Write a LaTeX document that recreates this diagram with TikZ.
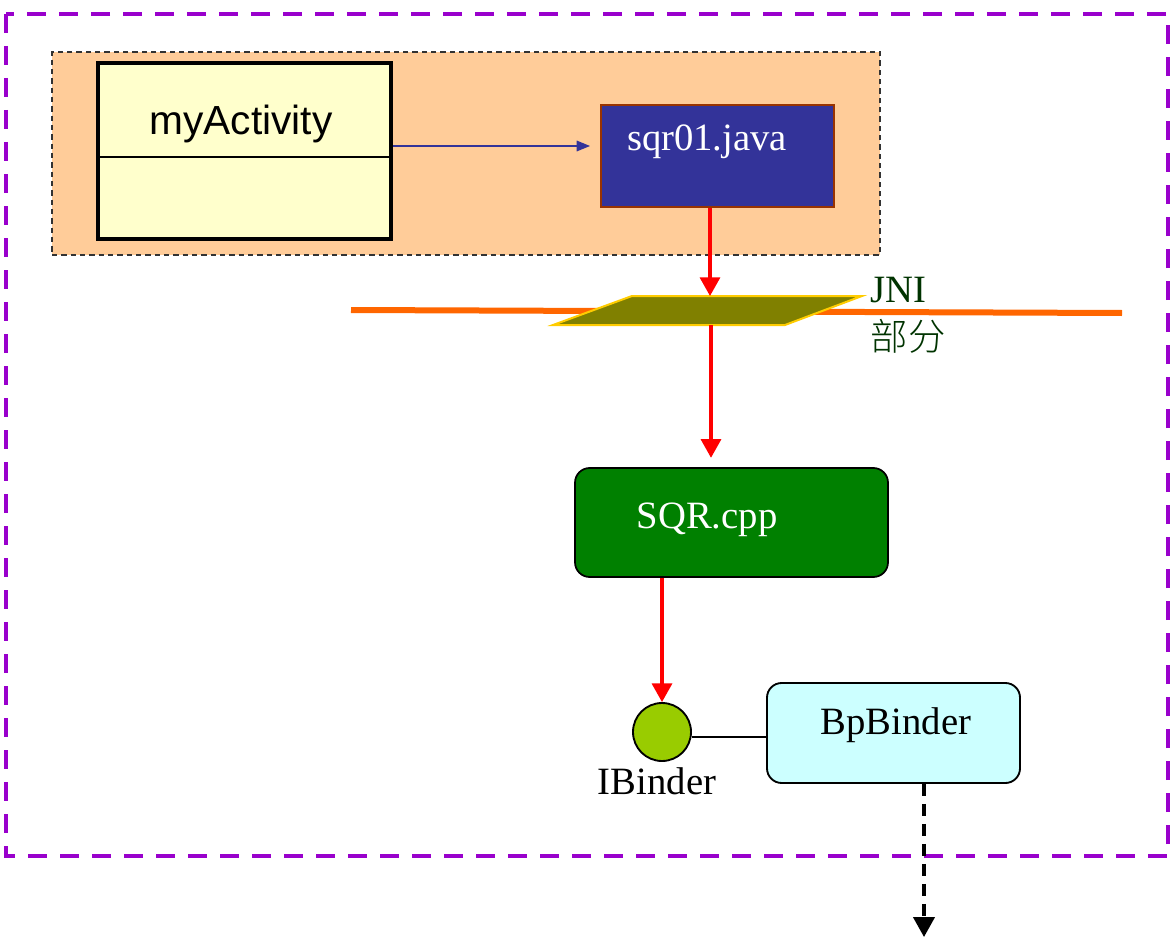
\documentclass[tikz,border=0pt]{standalone}
\usepackage{fontspec}
\setmainfont{Liberation Serif}
\newfontfamily\arialf{Liberation Sans}
\newfontfamily\cjkf{Noto Sans CJK SC}[UprightFont=* Light]
\usetikzlibrary{arrows.meta}
\definecolor{purp}{HTML}{9900CC}
\definecolor{peach}{HTML}{FFCC99}
\definecolor{lyel}{HTML}{FFFFCC}
\definecolor{navy}{HTML}{333399}
\definecolor{brownb}{HTML}{993300}
\definecolor{orln}{HTML}{FF6600}
\definecolor{olive}{HTML}{808000}
\definecolor{goldb}{HTML}{FFCC00}
\definecolor{dgreen}{HTML}{008000}
\definecolor{jnigreen}{HTML}{003300}
\definecolor{lime}{HTML}{99CC00}
\definecolor{lcyan}{HTML}{CCFFFF}
\tikzset{
  box/.style={inner sep=0pt, anchor=center},
  redarrow/.style={draw=red, line width=2.4pt, -{Triangle[length=14pt,width=15pt]}},
  lbl/.style={inner sep=0pt, anchor=center, font=\fontsize{29}{32}\selectfont}
}
\begin{document}
\begin{tikzpicture}[x=0.75pt,y=-0.75pt]
\useasboundingbox (0,0) rectangle (1172,942);
% outer purple dashed frame
\draw[purp, line width=3pt, dash pattern=on 14pt off 10pt] (6,14) rectangle (1168,856);
% peach background
\node[box, fill=peach, draw=black!80, line width=0.8pt, dash pattern=on 4pt off 3pt,
  minimum width=621pt, minimum height=152.25pt] (bg) at (466,153.5) {};
% myActivity
\node[box, fill=lyel, draw=black, line width=3pt, minimum width=219.75pt, minimum height=132pt] (act) at (244.5,151) {};
\draw[black, line width=0.8pt] (act.west |- 0,157) -- (act.east |- 0,157);
\node[lbl, font=\arialf\fontsize{30.5}{34}\selectfont] (actt) at (241,124) {myActivity};
% sqr01.java
\node[box, fill=navy, draw=brownb, line width=1.5pt, minimum width=174.75pt, minimum height=76.5pt] (sqr) at (717.5,156) {};
\node[lbl, text=white] (sqrt) at (707,142) {sqr01.java};
\draw[navy, line width=0.9pt, -{Triangle[length=10pt,width=8pt]}] (act.east |- 0,146) -- (590,146);
% JNI line and parallelogram
\coordinate (l1) at (351,310);
\coordinate (l2) at (1122,313);
\draw[orln, line width=4.5pt] (l1) -- (l2);
\filldraw[fill=olive, draw=goldb, line width=1.5pt] (553,325) -- (632,296) -- (862,296) -- (785,325) -- cycle;
\coordinate (jtop) at (710,296);
\coordinate (jbot) at (711,325);
\node[lbl, text=jnigreen] (jni) at (898,290) {JNI};
\node[inner sep=0pt, anchor=center, text=jnigreen, font=\cjkf\fontsize{28}{32}\selectfont] (bufen) at (908,336) {部分};
\draw[redarrow] (sqr.south -| jtop) -- (jtop);
% SQR.cpp
\node[box, fill=dgreen, draw=black, line width=1.3pt, rounded corners=11pt, minimum width=234.75pt, minimum height=81.75pt] (cpp) at (731.5,522.5) {};
\node[lbl, text=white] (cppt) at (707,520) {SQR.cpp};
\draw[redarrow, shorten >=7pt] (jbot) -- (cpp.north -| jbot);
% IBinder
\node[circle, draw=black, line width=1.4pt, fill=lime, inner sep=0pt, minimum size=43.5pt] (ib) at (662,732) {};
\node[lbl] (ibt) at (657,781) {IBinder};
\draw[redarrow] (cpp.south -| ib) -- (ib.north);
% BpBinder
\node[box, fill=lcyan, draw=black, line width=1.4pt, rounded corners=11pt, minimum width=189.75pt, minimum height=75pt] (bp) at (893.5,733) {};
\node[lbl] (bpt) at (896,725) {BpBinder};
\draw[black, line width=1.4pt] (ib.east |- 0,737) -- (bp.west |- 0,737);
\coordinate (dend) at (924,937);
\draw[black, line width=2.4pt, dash pattern=on 9pt off 6pt, -{Triangle[length=15pt,width=16pt]}] (bp.south -| dend) -- (dend);
\end{tikzpicture}
\end{document}
